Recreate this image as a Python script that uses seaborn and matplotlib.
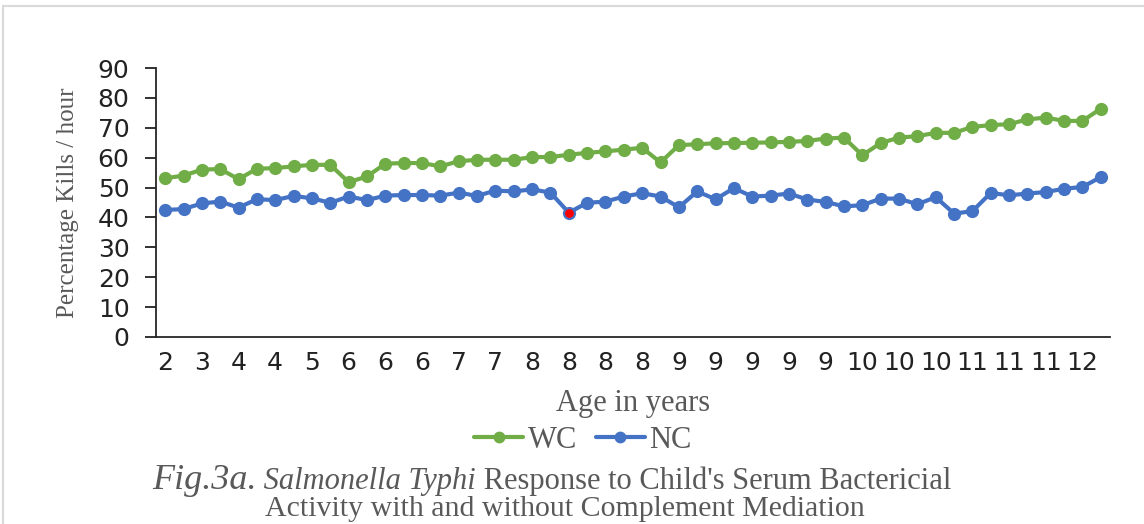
import pandas as pd
import matplotlib
matplotlib.use("Agg")
import matplotlib.pyplot as plt
from matplotlib.lines import Line2D
from matplotlib.patches import Rectangle
import seaborn as sns

# age labels shown under every second point
age_labels = ["2", "3", "4", "4", "5", "6", "6", "6", "7", "7", "8", "8", "8",
              "8", "9", "9", "9", "9", "9", "10", "10", "10", "11", "11", "11", "12"]

# percentage kills / hour, with complement (WC) and without (NC)
wc = [53.1, 54.0, 56.0, 56.2, 52.8, 56.3, 56.5, 57.1, 57.6, 57.6,
      51.8, 53.7, 58.0, 58.2, 58.2, 57.1, 58.8, 59.3, 59.3, 59.3,
      60.2, 60.2, 61.0, 61.6, 62.1, 62.7, 63.3, 58.4, 64.2, 64.5,
      64.8, 64.9, 65.0, 65.1, 65.3, 65.6, 66.4, 66.7, 60.8, 64.9,
      66.7, 67.2, 68.3, 68.3, 70.3, 70.9, 71.2, 72.8, 73.4, 72.3,
      72.3, 76.4]
nc = [42.5, 42.8, 44.7, 45.3, 43.3, 46.1, 45.8, 47.2, 46.4, 44.9,
      47.0, 45.8, 47.3, 47.5, 47.5, 47.3, 48.3, 47.2, 49.0, 48.7,
      49.4, 48.3, 41.6, 44.9, 45.3, 47.0, 48.1, 47.0, 43.4, 48.7,
      46.1, 49.8, 47.0, 47.3, 48.0, 46.0, 45.2, 43.7, 44.1, 46.3,
      46.3, 44.4, 46.8, 41.3, 42.1, 48.2, 47.4, 48.0, 48.5, 49.6,
      50.2, 53.5]
highlight = 22  # the lowest NC point, marked red

GREEN = "#70AD47"
BLUE = "#4472C4"
GREY = "#595959"

n = len(wc)
df = pd.DataFrame({
    "idx": list(range(n)) * 2,
    "val": wc + nc,
    "series": ["WC"] * n + ["NC"] * n,
})

sns.set_style("white")
plt.rcParams["font.family"] = ["DejaVu Sans"]

fig = plt.figure(figsize=(11.44, 5.24), dpi=100)
ax = fig.add_axes([156 / 1144, 1 - 337 / 524, (1110 - 156) / 1144, (337 - 68) / 524])

sns.lineplot(data=df, x="idx", y="val", hue="series",
             palette={"WC": GREEN, "NC": BLUE}, marker="o", markersize=9.5,
             markeredgewidth=0, linewidth=3, legend=False, ax=ax)
ax.scatter([highlight], [nc[highlight]], s=40, color="#FF0000", zorder=5,
           linewidths=0)

ax.set_xlim(-0.5, n - 0.5)
ax.set_ylim(0, 90)
ax.set_yticks(range(0, 91, 10))
ax.set_xticks(range(0, n, 2))
ax.set_xticklabels(age_labels)
ax.set_xlabel("")
ax.set_ylabel("")
ax.tick_params(axis="y", length=8, width=1.3, direction="out", pad=11,
               labelsize=18, colors="#222222", left=True)
ax.tick_params(axis="x", length=0, pad=10, labelsize=18, colors="#222222")
for s in ["top", "right"]:
    ax.spines[s].set_visible(False)
for s in ["left", "bottom"]:
    ax.spines[s].set_color("#262626")
    ax.spines[s].set_linewidth(1.3)

serif = ["Liberation Serif", "DejaVu Serif"]
fig.text(68 / 1144, 1 - 203 / 524, "Percentage Kills / hour", rotation=90,
         ha="center", va="center", fontsize=18, color=GREY, family=serif)
fig.text(633 / 1144, 1 - 403 / 524, "Age in years", ha="center", va="center",
         fontsize=22, color=GREY, family=serif)

handles = [Line2D([], [], color=GREEN, lw=3, marker="o", ms=8.5, mew=0),
           Line2D([], [], color=BLUE, lw=3, marker="o", ms=8.5, mew=0)]
fig.legend(handles, ["WC", "NC"], loc="center", ncol=2, frameon=False,
           bbox_to_anchor=(583 / 1144, 1 - 440 / 524), handlelength=1.6,
           handletextpad=0.15, columnspacing=0.6,
           prop={"family": serif, "size": 22}, labelcolor=GREY)

# caption, built piece by piece so the italic parts sit inline
renderer = fig.canvas.get_renderer()
x = 152
y1 = 1 - 489 / 524
for txt, style, size in [("Fig.3a.", "italic", 26),
                         (" Salmonella Typhi", "italic", 22),
                         (" Response to Child's Serum Bactericial", "normal", 22)]:
    t = fig.text(x / 1144, y1, txt, style=style, fontsize=size, color=GREY,
                 family=serif, va="baseline", ha="left")
    x = t.get_window_extent(renderer).x1
fig.text(565 / 1144, 1 - 516 / 524,
         "Activity with and without Complement Mediation", ha="center",
         va="baseline", fontsize=21.5, color=GREY, family=serif)

fig.add_artist(Rectangle((3 / 1144, -0.1), 1.2, 1.1 - 6 / 524,
                         transform=fig.transFigure, fill=False,
                         edgecolor="#D9D9D9", linewidth=1.5, clip_on=False))

fig.savefig("out.png", dpi=100)
